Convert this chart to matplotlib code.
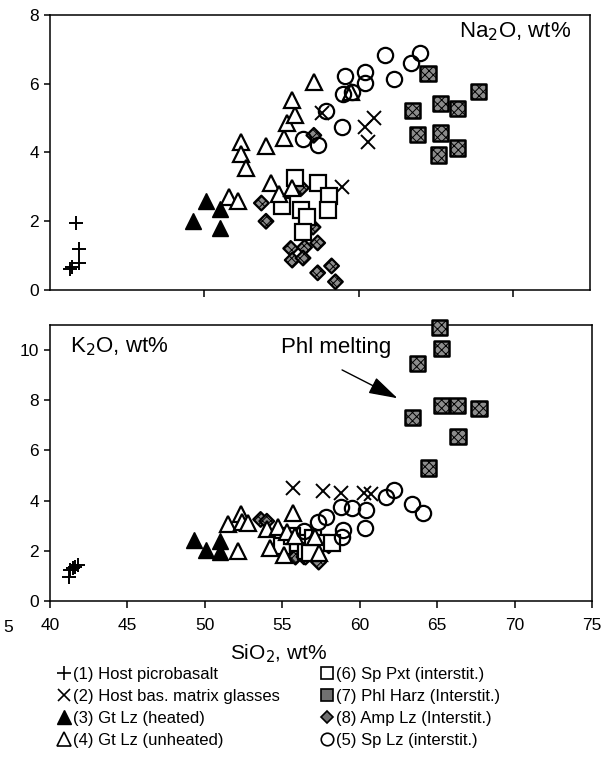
import matplotlib.pyplot as plt
from matplotlib.lines import Line2D

plt.rcParams['font.family'] = ['Liberation Sans', 'DejaVu Sans']
plt.rcParams['hatch.linewidth'] = 0.7

# (1) Host picrobasalt
pb_na_si = [41.7, 41.9, 41.9, 41.4, 41.3]
pb_na = [1.95, 1.2, 0.78, 0.68, 0.6]
pb_k_si = [41.2, 41.3, 41.6, 41.8, 41.5]
pb_k = [0.95, 1.25, 1.35, 1.45, 1.3]

# (2) Host bas. matrix glasses
gl_na_si = [57.6, 61.0, 60.4, 60.6, 58.9]
gl_na = [5.15, 5.0, 4.75, 4.3, 3.0]
gl_k_si = [55.7, 57.6, 58.8, 60.3, 60.7]
gl_k = [4.5, 4.38, 4.3, 4.32, 4.25]

# (3) Gt Lz (heated)
gth_na_si = [49.3, 50.1, 51.0, 51.0]
gth_na = [2.0, 2.6, 2.35, 1.8]
gth_k_si = [49.3, 50.1, 51.0, 51.0]
gth_k = [2.45, 2.05, 2.4, 1.95]

# (4) Gt Lz (unheated)
gtu_na_si = [51.6, 52.2, 52.4, 52.4, 52.7, 54.0, 54.3, 54.85, 55.7, 55.15,
             55.35, 55.9, 55.7, 57.1, 59.5]
gtu_na = [2.7, 2.6, 4.3, 3.97, 3.55, 4.2, 3.1, 2.8, 2.97, 4.43,
          4.85, 5.1, 5.52, 6.05, 5.77]
gtu_k_si = [51.5, 52.35, 52.4, 52.8, 52.15, 54.0, 54.75, 54.2, 55.1, 55.7,
            55.3, 55.85, 57.1, 57.4]
gtu_k = [3.05, 3.45, 3.15, 3.1, 2.0, 2.88, 2.95, 2.12, 1.84, 3.5,
         2.76, 2.6, 2.56, 1.9]

# (6) Sp Pxt (interstit.)
sp_na_si = [55.9, 57.4, 58.1, 55.05, 56.3, 58.0, 56.65, 56.4]
sp_na = [3.27, 3.12, 2.72, 2.43, 2.33, 2.32, 2.11, 1.69]
sp_k_si = [55.0, 56.0, 56.5, 57.0, 57.5, 58.2, 56.8, 55.6]
sp_k = [2.2, 2.3, 2.0, 2.5, 2.3, 2.3, 1.9, 2.6]

# (7) Phl Harz (Interstit.)
phl_na_si = [64.5, 67.75, 65.3, 66.4, 63.5, 63.8, 65.3, 66.4, 65.2]
phl_na = [6.3, 5.77, 5.43, 5.28, 5.23, 4.53, 4.57, 4.13, 3.93]
phl_k_si = [65.15, 65.3, 63.75, 63.4, 65.3, 66.3, 67.7, 66.35, 64.45]
phl_k = [10.9, 10.05, 9.46, 7.3, 7.8, 7.8, 7.67, 6.55, 5.3]

# (8) Amp Lz (Interstit.)
amp_na_si = [53.7, 54.0, 55.6, 56.5, 57.35, 55.7, 56.4, 57.35, 58.25, 58.5,
             56.3, 57.05, 57.1]
amp_na = [2.53, 2.0, 1.21, 1.24, 1.37, 0.87, 0.93, 0.5, 0.7, 0.24,
          2.97, 1.83, 4.5]
amp_k_si = [53.6, 54.0, 55.7, 56.0, 55.85, 56.4, 57.35, 58.2, 56.5, 57.0,
            56.8, 58.0]
amp_k = [3.25, 3.18, 2.15, 2.04, 1.75, 1.76, 1.55, 2.32, 1.75, 2.2,
         1.9, 2.2]

# (5) Sp Lz (interstit.)
spl_na_si = [61.7, 64.0, 63.4, 59.1, 60.4, 60.4, 62.3, 59.0, 59.6, 57.9,
             58.9, 56.4, 57.4]
spl_na = [6.83, 6.89, 6.6, 6.22, 6.34, 6.03, 6.13, 5.7, 5.75, 5.22,
          4.75, 4.38, 4.22]
spl_k_si = [62.2, 61.7, 63.4, 64.1, 60.4, 59.5, 58.8, 57.85, 57.3, 60.35,
            58.9, 58.85, 56.4]
spl_k = [4.43, 4.15, 3.88, 3.52, 3.64, 3.7, 3.76, 3.36, 3.15, 2.89,
         2.84, 2.56, 2.8]

labels_left = ['(1) Host picrobasalt', '(2) Host bas. matrix glasses',
               '(3) Gt Lz (heated)', '(4) Gt Lz (unheated)']
labels_right = ['(6) Sp Pxt (interstit.)', '(7) Phl Harz (Interstit.)',
                '(8) Amp Lz (Interstit.)', '(5) Sp Lz (interstit.)']

fig = plt.figure(figsize=(6.09, 7.6), dpi=100)
ax1 = fig.add_axes([50 / 609, 1 - 290 / 760, 540 / 609, 275 / 760])
ax2 = fig.add_axes([50 / 609, 1 - 601 / 760, 542 / 609, 276 / 760])

ew = 1.6
tex = '#8c8c8c'


def draw(ax, d):
    ax.plot(d[0][0], d[0][1], '+', color='k', ms=10, mew=1.4, ls='none')
    ax.plot(d[1][0], d[1][1], 'x', color='k', ms=10, mew=1.4, ls='none')
    ax.plot(d[2][0], d[2][1], '^', color='k', ms=12, ls='none')
    ax.scatter(d[6][0], d[6][1], marker='D', s=7.5 ** 2, facecolor=tex,
               edgecolors='k', linewidths=1.6, hatch='xxxx', zorder=3)
    ax.plot(d[4][0], d[4][1], 's', mfc='white', mec='k', mew=ew, ms=11, ls='none', zorder=4)
    ax.plot(d[3][0], d[3][1], '^', mfc='white', mec='k', mew=ew, ms=12, ls='none', zorder=4)
    ax.plot(d[7][0], d[7][1], 'o', mfc='none', mec='k', mew=ew, ms=11, ls='none', zorder=5)
    ax.scatter(d[5][0], d[5][1], marker='s', s=11 ** 2, facecolor=tex,
               edgecolors='k', linewidths=1.8, hatch='xxxx', zorder=5, clip_on=False)


draw(ax1, [(pb_na_si, pb_na), (gl_na_si, gl_na), (gth_na_si, gth_na),
           (gtu_na_si, gtu_na), (sp_na_si, sp_na), (phl_na_si, phl_na),
           (amp_na_si, amp_na), (spl_na_si, spl_na)])
draw(ax2, [(pb_k_si, pb_k), (gl_k_si, gl_k), (gth_k_si, gth_k),
           (gtu_k_si, gtu_k), (sp_k_si, sp_k), (phl_k_si, phl_k),
           (amp_k_si, amp_k), (spl_k_si, spl_k)])

for ax in (ax1, ax2):
    ax.set_xlim(40, 75)
    for s in ax.spines.values():
        s.set_linewidth(1.1)
    ax.tick_params(direction='out', length=5, width=1.1, labelsize=12.5)
    ax.tick_params(axis='x', pad=7)
    ax.tick_params(axis='y', pad=4, length=4)

ax1.set_ylim(0, 8)
ax1.set_yticks([0, 2, 4, 6, 8])
ax1.set_xticks([50, 60, 70])
ax1.set_xticklabels([])
ax1.text(73.8, 7.5, 'Na$_2$O, wt%', fontsize=16, ha='right', va='center')

ax2.set_ylim(0, 11)
ax2.set_yticks([0, 2, 4, 6, 8, 10])
ax2.set_xticks(range(40, 76, 5))
ax2.text(41.3, 10.15, 'K$_2$O, wt%', fontsize=16, ha='left', va='center')
ax2.text(54.9, 10.1, 'Phl melting', fontsize=16, ha='left', va='center')
ax2.annotate('', xy=(62.6, 8.03), xytext=(58.7, 9.26),
             arrowprops=dict(arrowstyle='-|>,head_length=1.0,head_width=0.3',
                             color='k', lw=1.0, mutation_scale=18))

fig.text(3 / 609, 1 - 627 / 760, '5', fontsize=12.5, ha='left', va='center')
fig.text(279 / 609, 1 - 654 / 760, 'SiO$_2$, wt%', fontsize=15, ha='center', va='center')

h_left = [
    Line2D([], [], marker='+', color='k', ms=10, mew=1.2, ls='none'),
    Line2D([], [], marker='x', color='k', ms=9, mew=1.2, ls='none'),
    Line2D([], [], marker='^', color='k', ms=10, ls='none'),
    Line2D([], [], marker='^', mfc='white', mec='k', mew=1.2, ms=10, ls='none'),
]
h_right = [
    Line2D([], [], marker='s', mfc='white', mec='k', mew=1.2, ms=9, ls='none'),
    Line2D([], [], marker='s', mfc='#707070', mec='k', mew=1.2, ms=9, ls='none'),
    Line2D([], [], marker='D', mfc='#707070', mec='k', mew=1.2, ms=6.5, ls='none'),
    Line2D([], [], marker='o', mfc='none', mec='k', mew=1.2, ms=9, ls='none'),
]
leg_kw = dict(loc='upper left', frameon=False, fontsize=12,
              handlelength=0.8, handletextpad=0.15, labelspacing=0.42,
              borderaxespad=0, borderpad=0)
fig.legend(h_left, labels_left, bbox_to_anchor=(57 / 609, 1 - 667 / 760), **leg_kw)
fig.legend(h_right, labels_right, bbox_to_anchor=(320 / 609, 1 - 667 / 760), **leg_kw)

fig.savefig('out.png', dpi=100)
